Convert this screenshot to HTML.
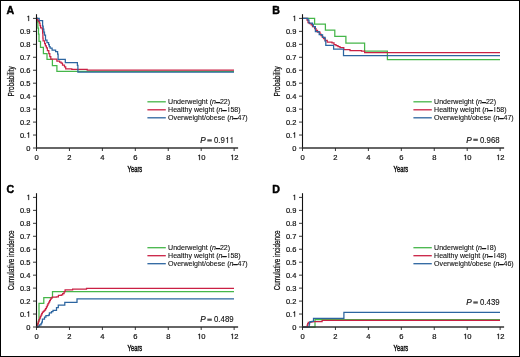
<!DOCTYPE html>
<html><head><meta charset="utf-8"><style>
html,body{margin:0;padding:0;background:#fff;}
svg{display:block;font-family:"Liberation Sans", sans-serif;}
text{stroke-linejoin:round;}
.w{will-change:transform;}
</style></head><body>
<svg width="520" height="357" viewBox="0 0 520 357" style="will-change:transform">
<rect x="0" y="0" width="520" height="357" fill="#fff"/>
<text x="6.4" y="13.8" font-size="10.6" font-weight="bold" fill="#000" stroke="#000" stroke-width="0.45">A</text>
<path d="M36.5,18.4 H37.4 V22 H37.9 V28 H38.5 V34 H39 V41.4 H40.5 V47.3 H43.4 V53.6 H47 V59.4 H52.4 V65.5 H56.9 V71.4 H234" fill="none" stroke="#45b649" stroke-width="1.25"/>
<path d="M36.5,18.4 H37.5 V20 H38.4 V21.5 H39.4 V23 H40 V25.5 H40.6 V27.8 H42.3 V29 H42.6 V33 H42.9 V38 H43.1 V40.9 H44.6 V43.6 H45.4 V45.8 H46.4 V47.8 H47.4 V50.7 H48.8 V53.7 H49.8 V56.6 H50.8 V59.1 H56.9 V61 H59.6 V62 H61.1 V63 H62.5 V65 H64.5 V66.9 H65.7 V68.9 H71.8 V69.4 H87.2 V70.2 H234" fill="none" stroke="#ca2044" stroke-width="1.25"/>
<path d="M36.5,18.4 H39.2 V20.6 H42.6 V26.1 H43.2 V29 H43.8 V32 H44.5 V35 H45.5 V40.1 H47 V42.6 H48.6 V44.6 H49.3 V46.5 H50.1 V48.1 H52.1 V50.2 H55.6 V51.7 H57.6 V54.2 H58.1 V59.4 H65.3 V62.6 H77.4 V65.4 H77.9 V72.2 H234" fill="none" stroke="#2c65a0" stroke-width="1.25"/>
<line x1="36.5" y1="14.199999999999989" x2="36.5" y2="148.8" stroke="#111" stroke-width="1.1"/>
<line x1="33.0" y1="148.00" x2="36.5" y2="148.00" stroke="#222" stroke-width="0.9"/>
<g transform="translate(26.130,150.650)"><text x="0.000" y="0" font-size="7.5" fill="#111" stroke="#111" stroke-width="0.2">0</text></g>
<line x1="33.0" y1="135.04" x2="36.5" y2="135.04" stroke="#222" stroke-width="0.9"/>
<g transform="translate(19.875,137.690)"><text x="0.000" y="0" font-size="7.5" fill="#111" stroke="#111" stroke-width="0.2">0</text><text x="4.170" y="0" font-size="7.5" fill="#111" stroke="#111" stroke-width="0.2">.</text><path transform="translate(6.255,0) scale(0.00750,-0.00750)" d="M392,0 L392,709 L322,709 C310,650 280,610 230,598 C200,591 170,590 145,590 L145,530 L302,530 L302,0 Z" fill="#111" stroke="#111" stroke-width="26.7"/></g>
<line x1="33.0" y1="122.08" x2="36.5" y2="122.08" stroke="#222" stroke-width="0.9"/>
<g transform="translate(19.875,124.730)"><text x="0.000" y="0" font-size="7.5" fill="#111" stroke="#111" stroke-width="0.2">0</text><text x="4.170" y="0" font-size="7.5" fill="#111" stroke="#111" stroke-width="0.2">.</text><text x="6.255" y="0" font-size="7.5" fill="#111" stroke="#111" stroke-width="0.2">2</text></g>
<line x1="33.0" y1="109.12" x2="36.5" y2="109.12" stroke="#222" stroke-width="0.9"/>
<g transform="translate(19.875,111.770)"><text x="0.000" y="0" font-size="7.5" fill="#111" stroke="#111" stroke-width="0.2">0</text><text x="4.170" y="0" font-size="7.5" fill="#111" stroke="#111" stroke-width="0.2">.</text><text x="6.255" y="0" font-size="7.5" fill="#111" stroke="#111" stroke-width="0.2">3</text></g>
<line x1="33.0" y1="96.16" x2="36.5" y2="96.16" stroke="#222" stroke-width="0.9"/>
<g transform="translate(19.875,98.810)"><text x="0.000" y="0" font-size="7.5" fill="#111" stroke="#111" stroke-width="0.2">0</text><text x="4.170" y="0" font-size="7.5" fill="#111" stroke="#111" stroke-width="0.2">.</text><text x="6.255" y="0" font-size="7.5" fill="#111" stroke="#111" stroke-width="0.2">4</text></g>
<line x1="33.0" y1="83.20" x2="36.5" y2="83.20" stroke="#222" stroke-width="0.9"/>
<g transform="translate(19.875,85.850)"><text x="0.000" y="0" font-size="7.5" fill="#111" stroke="#111" stroke-width="0.2">0</text><text x="4.170" y="0" font-size="7.5" fill="#111" stroke="#111" stroke-width="0.2">.</text><text x="6.255" y="0" font-size="7.5" fill="#111" stroke="#111" stroke-width="0.2">5</text></g>
<line x1="33.0" y1="70.24" x2="36.5" y2="70.24" stroke="#222" stroke-width="0.9"/>
<g transform="translate(19.875,72.890)"><text x="0.000" y="0" font-size="7.5" fill="#111" stroke="#111" stroke-width="0.2">0</text><text x="4.170" y="0" font-size="7.5" fill="#111" stroke="#111" stroke-width="0.2">.</text><text x="6.255" y="0" font-size="7.5" fill="#111" stroke="#111" stroke-width="0.2">6</text></g>
<line x1="33.0" y1="57.28" x2="36.5" y2="57.28" stroke="#222" stroke-width="0.9"/>
<g transform="translate(19.875,59.930)"><text x="0.000" y="0" font-size="7.5" fill="#111" stroke="#111" stroke-width="0.2">0</text><text x="4.170" y="0" font-size="7.5" fill="#111" stroke="#111" stroke-width="0.2">.</text><text x="6.255" y="0" font-size="7.5" fill="#111" stroke="#111" stroke-width="0.2">7</text></g>
<line x1="33.0" y1="44.32" x2="36.5" y2="44.32" stroke="#222" stroke-width="0.9"/>
<g transform="translate(19.875,46.970)"><text x="0.000" y="0" font-size="7.5" fill="#111" stroke="#111" stroke-width="0.2">0</text><text x="4.170" y="0" font-size="7.5" fill="#111" stroke="#111" stroke-width="0.2">.</text><text x="6.255" y="0" font-size="7.5" fill="#111" stroke="#111" stroke-width="0.2">8</text></g>
<line x1="33.0" y1="31.36" x2="36.5" y2="31.36" stroke="#222" stroke-width="0.9"/>
<g transform="translate(19.875,34.010)"><text x="0.000" y="0" font-size="7.5" fill="#111" stroke="#111" stroke-width="0.2">0</text><text x="4.170" y="0" font-size="7.5" fill="#111" stroke="#111" stroke-width="0.2">.</text><text x="6.255" y="0" font-size="7.5" fill="#111" stroke="#111" stroke-width="0.2">9</text></g>
<line x1="33.0" y1="18.40" x2="36.5" y2="18.40" stroke="#222" stroke-width="0.9"/>
<g transform="translate(26.130,21.050)"><path transform="translate(0.000,0) scale(0.00750,-0.00750)" d="M392,0 L392,709 L322,709 C310,650 280,610 230,598 C200,591 170,590 145,590 L145,530 L302,530 L302,0 Z" fill="#111" stroke="#111" stroke-width="26.7"/></g>
<line x1="36.0" y1="148.0" x2="238.1" y2="148.0" stroke="#333" stroke-width="1.7"/>
<line x1="36.50" y1="148.0" x2="36.50" y2="151.0" stroke="#222" stroke-width="0.9"/>
<g transform="translate(34.387,160.100)"><text x="0.000" y="0" font-size="7.6" fill="#111" stroke="#111" stroke-width="0.2">0</text></g>
<line x1="69.44" y1="148.0" x2="69.44" y2="151.0" stroke="#222" stroke-width="0.9"/>
<g transform="translate(67.327,160.100)"><text x="0.000" y="0" font-size="7.6" fill="#111" stroke="#111" stroke-width="0.2">2</text></g>
<line x1="102.38" y1="148.0" x2="102.38" y2="151.0" stroke="#222" stroke-width="0.9"/>
<g transform="translate(100.267,160.100)"><text x="0.000" y="0" font-size="7.6" fill="#111" stroke="#111" stroke-width="0.2">4</text></g>
<line x1="135.32" y1="148.0" x2="135.32" y2="151.0" stroke="#222" stroke-width="0.9"/>
<g transform="translate(133.207,160.100)"><text x="0.000" y="0" font-size="7.6" fill="#111" stroke="#111" stroke-width="0.2">6</text></g>
<line x1="168.26" y1="148.0" x2="168.26" y2="151.0" stroke="#222" stroke-width="0.9"/>
<g transform="translate(166.147,160.100)"><text x="0.000" y="0" font-size="7.6" fill="#111" stroke="#111" stroke-width="0.2">8</text></g>
<line x1="201.20" y1="148.0" x2="201.20" y2="151.0" stroke="#222" stroke-width="0.9"/>
<g transform="translate(196.974,160.100)"><path transform="translate(0.000,0) scale(0.00760,-0.00760)" d="M392,0 L392,709 L322,709 C310,650 280,610 230,598 C200,591 170,590 145,590 L145,530 L302,530 L302,0 Z" fill="#111" stroke="#111" stroke-width="26.3"/><text x="4.226" y="0" font-size="7.6" fill="#111" stroke="#111" stroke-width="0.2">0</text></g>
<line x1="234.14" y1="148.0" x2="234.14" y2="151.0" stroke="#222" stroke-width="0.9"/>
<g transform="translate(229.914,160.100)"><path transform="translate(0.000,0) scale(0.00760,-0.00760)" d="M392,0 L392,709 L322,709 C310,650 280,610 230,598 C200,591 170,590 145,590 L145,530 L302,530 L302,0 Z" fill="#111" stroke="#111" stroke-width="26.3"/><text x="4.226" y="0" font-size="7.6" fill="#111" stroke="#111" stroke-width="0.2">2</text></g>
<g transform="translate(127.60,172.20) scale(0.6325,1)"><text x="0" y="0" font-size="9.2" fill="#111" stroke="#111" stroke-width="0.45">Years</text></g>
<g transform="translate(13.5,81.30) rotate(-90) scale(0.7633,1)"><text x="0" y="0" font-size="8.5" text-anchor="middle" fill="#111" stroke="#111" stroke-width="0.26">Probability</text></g>
<line x1="147.40" y1="101.80" x2="165.80" y2="101.80" stroke="#45b649" stroke-width="1.3"/>
<text x="168.10" y="104.15" font-size="7" fill="#111" stroke="#111" stroke-width="0.1" textLength="62.0" lengthAdjust="spacingAndGlyphs">Underweight (<tspan font-style="italic">n</tspan><tspan stroke-width="0.75" dy="-0.2">–</tspan><tspan dy="0.2">22)</tspan></text>
<line x1="147.40" y1="109.80" x2="165.80" y2="109.80" stroke="#ca2044" stroke-width="1.3"/>
<text x="168.10" y="112.15" font-size="7" fill="#111" stroke="#111" stroke-width="0.1" textLength="72.5" lengthAdjust="spacingAndGlyphs">Healthy weight (<tspan font-style="italic">n</tspan><tspan stroke-width="0.75" dy="-0.2">–</tspan><tspan dy="0.2" dx="1.5">l</tspan><tspan dx="0.85">58)</tspan></text>
<line x1="147.40" y1="117.80" x2="165.80" y2="117.80" stroke="#2c65a0" stroke-width="1.3"/>
<text x="168.10" y="120.15" font-size="7" fill="#111" stroke="#111" stroke-width="0.1" textLength="79.6" lengthAdjust="spacingAndGlyphs">Overweight/obese (<tspan font-style="italic">n</tspan><tspan stroke-width="0.75" dy="-0.2">–</tspan><tspan dy="0.2">47)</tspan></text>
<text x="200.30" y="143.10" font-size="8.2" font-style="italic" fill="#111" stroke="#111" stroke-width="0.2">P</text>
<rect x="207.30" y="139.30" width="4.5" height="2.2" fill="#555"/>
<g transform="translate(214.000,143.100) scale(0.9109,1)"><text x="0.000" y="0" font-size="8.6" fill="#111" stroke="#111" stroke-width="0.12">0</text><text x="4.782" y="0" font-size="8.6" fill="#111" stroke="#111" stroke-width="0.12">.</text><text x="7.172" y="0" font-size="8.6" fill="#111" stroke="#111" stroke-width="0.12">9</text><path transform="translate(11.954,0) scale(0.00860,-0.00860)" d="M392,0 L392,709 L322,709 C310,650 280,610 230,598 C200,591 170,590 145,590 L145,530 L302,530 L302,0 Z" fill="#111" stroke="#111" stroke-width="14.0"/><path transform="translate(16.736,0) scale(0.00860,-0.00860)" d="M392,0 L392,709 L322,709 C310,650 280,610 230,598 C200,591 170,590 145,590 L145,530 L302,530 L302,0 Z" fill="#111" stroke="#111" stroke-width="14.0"/></g>
<text x="272.3" y="13.8" font-size="10.6" font-weight="bold" fill="#000" stroke="#000" stroke-width="0.45">B</text>
<path d="M302.5,18.4 H314.6 V24 H325.4 V30.1 H334.8 V36.4 H345.9 V43.2 H364.6 V51.1 H387.4 V59.5 H500" fill="none" stroke="#45b649" stroke-width="1.25"/>
<path d="M302.5,18.4 H307 V20 H308 V22.7 H309.5 V23.5 H311.2 V24.8 H312.5 V26.5 H314.6 V28.6 H316 V30.3 H317.5 V32 H320 V34 H321 V35.5 H322.2 V37 H323.5 V38.7 H325.1 V40.4 H327.2 V42 H332 V42.9 H334 V44.5 H336 V45.5 H338 V46.5 H340 V47.7 H343.8 V49.5 H350 V50.5 H361.5 V51.1 H364.6 V52.6 H500" fill="none" stroke="#ca2044" stroke-width="1.25"/>
<path d="M302.5,18.4 H307.9 V20.2 H309 V23.1 H312.5 V24.4 H313.3 V26.5 H315.4 V31.5 H319.2 V34.5 H321.7 V34.9 H322.6 V37.4 H325.1 V41.2 H325.8 V45.3 H333.6 V49 H343.5 V55.5 H500" fill="none" stroke="#2c65a0" stroke-width="1.25"/>
<line x1="302.5" y1="14.199999999999989" x2="302.5" y2="148.8" stroke="#111" stroke-width="1.1"/>
<line x1="299.0" y1="148.00" x2="302.5" y2="148.00" stroke="#222" stroke-width="0.9"/>
<g transform="translate(292.130,150.650)"><text x="0.000" y="0" font-size="7.5" fill="#111" stroke="#111" stroke-width="0.2">0</text></g>
<line x1="299.0" y1="135.04" x2="302.5" y2="135.04" stroke="#222" stroke-width="0.9"/>
<g transform="translate(285.875,137.690)"><text x="0.000" y="0" font-size="7.5" fill="#111" stroke="#111" stroke-width="0.2">0</text><text x="4.170" y="0" font-size="7.5" fill="#111" stroke="#111" stroke-width="0.2">.</text><path transform="translate(6.255,0) scale(0.00750,-0.00750)" d="M392,0 L392,709 L322,709 C310,650 280,610 230,598 C200,591 170,590 145,590 L145,530 L302,530 L302,0 Z" fill="#111" stroke="#111" stroke-width="26.7"/></g>
<line x1="299.0" y1="122.08" x2="302.5" y2="122.08" stroke="#222" stroke-width="0.9"/>
<g transform="translate(285.875,124.730)"><text x="0.000" y="0" font-size="7.5" fill="#111" stroke="#111" stroke-width="0.2">0</text><text x="4.170" y="0" font-size="7.5" fill="#111" stroke="#111" stroke-width="0.2">.</text><text x="6.255" y="0" font-size="7.5" fill="#111" stroke="#111" stroke-width="0.2">2</text></g>
<line x1="299.0" y1="109.12" x2="302.5" y2="109.12" stroke="#222" stroke-width="0.9"/>
<g transform="translate(285.875,111.770)"><text x="0.000" y="0" font-size="7.5" fill="#111" stroke="#111" stroke-width="0.2">0</text><text x="4.170" y="0" font-size="7.5" fill="#111" stroke="#111" stroke-width="0.2">.</text><text x="6.255" y="0" font-size="7.5" fill="#111" stroke="#111" stroke-width="0.2">3</text></g>
<line x1="299.0" y1="96.16" x2="302.5" y2="96.16" stroke="#222" stroke-width="0.9"/>
<g transform="translate(285.875,98.810)"><text x="0.000" y="0" font-size="7.5" fill="#111" stroke="#111" stroke-width="0.2">0</text><text x="4.170" y="0" font-size="7.5" fill="#111" stroke="#111" stroke-width="0.2">.</text><text x="6.255" y="0" font-size="7.5" fill="#111" stroke="#111" stroke-width="0.2">4</text></g>
<line x1="299.0" y1="83.20" x2="302.5" y2="83.20" stroke="#222" stroke-width="0.9"/>
<g transform="translate(285.875,85.850)"><text x="0.000" y="0" font-size="7.5" fill="#111" stroke="#111" stroke-width="0.2">0</text><text x="4.170" y="0" font-size="7.5" fill="#111" stroke="#111" stroke-width="0.2">.</text><text x="6.255" y="0" font-size="7.5" fill="#111" stroke="#111" stroke-width="0.2">5</text></g>
<line x1="299.0" y1="70.24" x2="302.5" y2="70.24" stroke="#222" stroke-width="0.9"/>
<g transform="translate(285.875,72.890)"><text x="0.000" y="0" font-size="7.5" fill="#111" stroke="#111" stroke-width="0.2">0</text><text x="4.170" y="0" font-size="7.5" fill="#111" stroke="#111" stroke-width="0.2">.</text><text x="6.255" y="0" font-size="7.5" fill="#111" stroke="#111" stroke-width="0.2">6</text></g>
<line x1="299.0" y1="57.28" x2="302.5" y2="57.28" stroke="#222" stroke-width="0.9"/>
<g transform="translate(285.875,59.930)"><text x="0.000" y="0" font-size="7.5" fill="#111" stroke="#111" stroke-width="0.2">0</text><text x="4.170" y="0" font-size="7.5" fill="#111" stroke="#111" stroke-width="0.2">.</text><text x="6.255" y="0" font-size="7.5" fill="#111" stroke="#111" stroke-width="0.2">7</text></g>
<line x1="299.0" y1="44.32" x2="302.5" y2="44.32" stroke="#222" stroke-width="0.9"/>
<g transform="translate(285.875,46.970)"><text x="0.000" y="0" font-size="7.5" fill="#111" stroke="#111" stroke-width="0.2">0</text><text x="4.170" y="0" font-size="7.5" fill="#111" stroke="#111" stroke-width="0.2">.</text><text x="6.255" y="0" font-size="7.5" fill="#111" stroke="#111" stroke-width="0.2">8</text></g>
<line x1="299.0" y1="31.36" x2="302.5" y2="31.36" stroke="#222" stroke-width="0.9"/>
<g transform="translate(285.875,34.010)"><text x="0.000" y="0" font-size="7.5" fill="#111" stroke="#111" stroke-width="0.2">0</text><text x="4.170" y="0" font-size="7.5" fill="#111" stroke="#111" stroke-width="0.2">.</text><text x="6.255" y="0" font-size="7.5" fill="#111" stroke="#111" stroke-width="0.2">9</text></g>
<line x1="299.0" y1="18.40" x2="302.5" y2="18.40" stroke="#222" stroke-width="0.9"/>
<g transform="translate(292.130,21.050)"><path transform="translate(0.000,0) scale(0.00750,-0.00750)" d="M392,0 L392,709 L322,709 C310,650 280,610 230,598 C200,591 170,590 145,590 L145,530 L302,530 L302,0 Z" fill="#111" stroke="#111" stroke-width="26.7"/></g>
<line x1="302.0" y1="148.0" x2="504.1" y2="148.0" stroke="#333" stroke-width="1.7"/>
<line x1="302.50" y1="148.0" x2="302.50" y2="151.0" stroke="#222" stroke-width="0.9"/>
<g transform="translate(300.387,160.100)"><text x="0.000" y="0" font-size="7.6" fill="#111" stroke="#111" stroke-width="0.2">0</text></g>
<line x1="335.44" y1="148.0" x2="335.44" y2="151.0" stroke="#222" stroke-width="0.9"/>
<g transform="translate(333.327,160.100)"><text x="0.000" y="0" font-size="7.6" fill="#111" stroke="#111" stroke-width="0.2">2</text></g>
<line x1="368.38" y1="148.0" x2="368.38" y2="151.0" stroke="#222" stroke-width="0.9"/>
<g transform="translate(366.267,160.100)"><text x="0.000" y="0" font-size="7.6" fill="#111" stroke="#111" stroke-width="0.2">4</text></g>
<line x1="401.32" y1="148.0" x2="401.32" y2="151.0" stroke="#222" stroke-width="0.9"/>
<g transform="translate(399.207,160.100)"><text x="0.000" y="0" font-size="7.6" fill="#111" stroke="#111" stroke-width="0.2">6</text></g>
<line x1="434.26" y1="148.0" x2="434.26" y2="151.0" stroke="#222" stroke-width="0.9"/>
<g transform="translate(432.147,160.100)"><text x="0.000" y="0" font-size="7.6" fill="#111" stroke="#111" stroke-width="0.2">8</text></g>
<line x1="467.20" y1="148.0" x2="467.20" y2="151.0" stroke="#222" stroke-width="0.9"/>
<g transform="translate(462.974,160.100)"><path transform="translate(0.000,0) scale(0.00760,-0.00760)" d="M392,0 L392,709 L322,709 C310,650 280,610 230,598 C200,591 170,590 145,590 L145,530 L302,530 L302,0 Z" fill="#111" stroke="#111" stroke-width="26.3"/><text x="4.226" y="0" font-size="7.6" fill="#111" stroke="#111" stroke-width="0.2">0</text></g>
<line x1="500.14" y1="148.0" x2="500.14" y2="151.0" stroke="#222" stroke-width="0.9"/>
<g transform="translate(495.914,160.100)"><path transform="translate(0.000,0) scale(0.00760,-0.00760)" d="M392,0 L392,709 L322,709 C310,650 280,610 230,598 C200,591 170,590 145,590 L145,530 L302,530 L302,0 Z" fill="#111" stroke="#111" stroke-width="26.3"/><text x="4.226" y="0" font-size="7.6" fill="#111" stroke="#111" stroke-width="0.2">2</text></g>
<g transform="translate(393.60,172.20) scale(0.6325,1)"><text x="0" y="0" font-size="9.2" fill="#111" stroke="#111" stroke-width="0.45">Years</text></g>
<g transform="translate(279.5,81.30) rotate(-90) scale(0.7633,1)"><text x="0" y="0" font-size="8.5" text-anchor="middle" fill="#111" stroke="#111" stroke-width="0.26">Probability</text></g>
<line x1="413.40" y1="101.80" x2="431.80" y2="101.80" stroke="#45b649" stroke-width="1.3"/>
<text x="434.10" y="104.15" font-size="7" fill="#111" stroke="#111" stroke-width="0.1" textLength="62.0" lengthAdjust="spacingAndGlyphs">Underweight (<tspan font-style="italic">n</tspan><tspan stroke-width="0.75" dy="-0.2">–</tspan><tspan dy="0.2">22)</tspan></text>
<line x1="413.40" y1="109.80" x2="431.80" y2="109.80" stroke="#ca2044" stroke-width="1.3"/>
<text x="434.10" y="112.15" font-size="7" fill="#111" stroke="#111" stroke-width="0.1" textLength="72.5" lengthAdjust="spacingAndGlyphs">Healthy weight (<tspan font-style="italic">n</tspan><tspan stroke-width="0.75" dy="-0.2">–</tspan><tspan dy="0.2" dx="1.5">l</tspan><tspan dx="0.85">58)</tspan></text>
<line x1="413.40" y1="117.80" x2="431.80" y2="117.80" stroke="#2c65a0" stroke-width="1.3"/>
<text x="434.10" y="120.15" font-size="7" fill="#111" stroke="#111" stroke-width="0.1" textLength="79.6" lengthAdjust="spacingAndGlyphs">Overweight/obese (<tspan font-style="italic">n</tspan><tspan stroke-width="0.75" dy="-0.2">–</tspan><tspan dy="0.2">47)</tspan></text>
<text x="466.30" y="142.50" font-size="8.2" font-style="italic" fill="#111" stroke="#111" stroke-width="0.2">P</text>
<rect x="473.30" y="138.70" width="4.5" height="2.2" fill="#555"/>
<g transform="translate(480.000,142.500) scale(0.9109,1)"><text x="0.000" y="0" font-size="8.6" fill="#111" stroke="#111" stroke-width="0.12">0</text><text x="4.782" y="0" font-size="8.6" fill="#111" stroke="#111" stroke-width="0.12">.</text><text x="7.172" y="0" font-size="8.6" fill="#111" stroke="#111" stroke-width="0.12">9</text><text x="11.954" y="0" font-size="8.6" fill="#111" stroke="#111" stroke-width="0.12">6</text><text x="16.736" y="0" font-size="8.6" fill="#111" stroke="#111" stroke-width="0.12">8</text></g>
<text x="6.4" y="193.0" font-size="10.6" font-weight="bold" fill="#000" stroke="#000" stroke-width="0.45">C</text>
<path d="M36.5,327 H37.2 V325.5 H37.8 V323 H38.5 V320.5 H39 V303.4 H43.8 V297.6 H52.5 V291.5 H234" fill="none" stroke="#45b649" stroke-width="1.25"/>
<path d="M36.5,327 H37.2 V325 H37.8 V323.5 H38.3 V321.5 H39 V319.5 H39.7 V318 H40.3 V316.5 H41 V315 H41.7 V313.5 H42.4 V312.2 H43.5 V311 H44.5 V310 H45.5 V308.5 H46.4 V306.8 H47.3 V305 H48 V303.5 H48.8 V302 H49.6 V300.5 H50.4 V299 H51.2 V297.8 H52.2 V297.2 H56.4 V296.8 H58.4 V295.4 H61.3 V294.9 H62.7 V293.5 H64.1 V291.5 H65.1 V289.9 H72.6 V289 H86.5 V288.3 H234" fill="none" stroke="#ca2044" stroke-width="1.25"/>
<path d="M36.5,327 H38 V326.2 H39.6 V324.8 H41 V323.5 H41.7 V322 H42.4 V319.2 H44.5 V317.1 H45.9 V315.7 H48.5 V315 H49.4 V312.9 H51.5 V311.5 H53 V310.4 H56.5 V307.7 H58.3 V305.2 H64.8 V302.3 H77 V298.9 H234" fill="none" stroke="#2c65a0" stroke-width="1.25"/>
<line x1="36.5" y1="193.2" x2="36.5" y2="327.8" stroke="#111" stroke-width="1.1"/>
<line x1="33.0" y1="327.00" x2="36.5" y2="327.00" stroke="#222" stroke-width="0.9"/>
<g transform="translate(26.130,329.650)"><text x="0.000" y="0" font-size="7.5" fill="#111" stroke="#111" stroke-width="0.2">0</text></g>
<line x1="33.0" y1="314.04" x2="36.5" y2="314.04" stroke="#222" stroke-width="0.9"/>
<g transform="translate(19.875,316.690)"><text x="0.000" y="0" font-size="7.5" fill="#111" stroke="#111" stroke-width="0.2">0</text><text x="4.170" y="0" font-size="7.5" fill="#111" stroke="#111" stroke-width="0.2">.</text><path transform="translate(6.255,0) scale(0.00750,-0.00750)" d="M392,0 L392,709 L322,709 C310,650 280,610 230,598 C200,591 170,590 145,590 L145,530 L302,530 L302,0 Z" fill="#111" stroke="#111" stroke-width="26.7"/></g>
<line x1="33.0" y1="301.08" x2="36.5" y2="301.08" stroke="#222" stroke-width="0.9"/>
<g transform="translate(19.875,303.730)"><text x="0.000" y="0" font-size="7.5" fill="#111" stroke="#111" stroke-width="0.2">0</text><text x="4.170" y="0" font-size="7.5" fill="#111" stroke="#111" stroke-width="0.2">.</text><text x="6.255" y="0" font-size="7.5" fill="#111" stroke="#111" stroke-width="0.2">2</text></g>
<line x1="33.0" y1="288.12" x2="36.5" y2="288.12" stroke="#222" stroke-width="0.9"/>
<g transform="translate(19.875,290.770)"><text x="0.000" y="0" font-size="7.5" fill="#111" stroke="#111" stroke-width="0.2">0</text><text x="4.170" y="0" font-size="7.5" fill="#111" stroke="#111" stroke-width="0.2">.</text><text x="6.255" y="0" font-size="7.5" fill="#111" stroke="#111" stroke-width="0.2">3</text></g>
<line x1="33.0" y1="275.16" x2="36.5" y2="275.16" stroke="#222" stroke-width="0.9"/>
<g transform="translate(19.875,277.810)"><text x="0.000" y="0" font-size="7.5" fill="#111" stroke="#111" stroke-width="0.2">0</text><text x="4.170" y="0" font-size="7.5" fill="#111" stroke="#111" stroke-width="0.2">.</text><text x="6.255" y="0" font-size="7.5" fill="#111" stroke="#111" stroke-width="0.2">4</text></g>
<line x1="33.0" y1="262.20" x2="36.5" y2="262.20" stroke="#222" stroke-width="0.9"/>
<g transform="translate(19.875,264.850)"><text x="0.000" y="0" font-size="7.5" fill="#111" stroke="#111" stroke-width="0.2">0</text><text x="4.170" y="0" font-size="7.5" fill="#111" stroke="#111" stroke-width="0.2">.</text><text x="6.255" y="0" font-size="7.5" fill="#111" stroke="#111" stroke-width="0.2">5</text></g>
<line x1="33.0" y1="249.24" x2="36.5" y2="249.24" stroke="#222" stroke-width="0.9"/>
<g transform="translate(19.875,251.890)"><text x="0.000" y="0" font-size="7.5" fill="#111" stroke="#111" stroke-width="0.2">0</text><text x="4.170" y="0" font-size="7.5" fill="#111" stroke="#111" stroke-width="0.2">.</text><text x="6.255" y="0" font-size="7.5" fill="#111" stroke="#111" stroke-width="0.2">6</text></g>
<line x1="33.0" y1="236.28" x2="36.5" y2="236.28" stroke="#222" stroke-width="0.9"/>
<g transform="translate(19.875,238.930)"><text x="0.000" y="0" font-size="7.5" fill="#111" stroke="#111" stroke-width="0.2">0</text><text x="4.170" y="0" font-size="7.5" fill="#111" stroke="#111" stroke-width="0.2">.</text><text x="6.255" y="0" font-size="7.5" fill="#111" stroke="#111" stroke-width="0.2">7</text></g>
<line x1="33.0" y1="223.32" x2="36.5" y2="223.32" stroke="#222" stroke-width="0.9"/>
<g transform="translate(19.875,225.970)"><text x="0.000" y="0" font-size="7.5" fill="#111" stroke="#111" stroke-width="0.2">0</text><text x="4.170" y="0" font-size="7.5" fill="#111" stroke="#111" stroke-width="0.2">.</text><text x="6.255" y="0" font-size="7.5" fill="#111" stroke="#111" stroke-width="0.2">8</text></g>
<line x1="33.0" y1="210.36" x2="36.5" y2="210.36" stroke="#222" stroke-width="0.9"/>
<g transform="translate(19.875,213.010)"><text x="0.000" y="0" font-size="7.5" fill="#111" stroke="#111" stroke-width="0.2">0</text><text x="4.170" y="0" font-size="7.5" fill="#111" stroke="#111" stroke-width="0.2">.</text><text x="6.255" y="0" font-size="7.5" fill="#111" stroke="#111" stroke-width="0.2">9</text></g>
<line x1="33.0" y1="197.40" x2="36.5" y2="197.40" stroke="#222" stroke-width="0.9"/>
<g transform="translate(26.130,200.050)"><path transform="translate(0.000,0) scale(0.00750,-0.00750)" d="M392,0 L392,709 L322,709 C310,650 280,610 230,598 C200,591 170,590 145,590 L145,530 L302,530 L302,0 Z" fill="#111" stroke="#111" stroke-width="26.7"/></g>
<line x1="36.0" y1="327.0" x2="238.1" y2="327.0" stroke="#333" stroke-width="1.7"/>
<line x1="36.50" y1="327.0" x2="36.50" y2="330.0" stroke="#222" stroke-width="0.9"/>
<g transform="translate(34.387,339.100)"><text x="0.000" y="0" font-size="7.6" fill="#111" stroke="#111" stroke-width="0.2">0</text></g>
<line x1="69.44" y1="327.0" x2="69.44" y2="330.0" stroke="#222" stroke-width="0.9"/>
<g transform="translate(67.327,339.100)"><text x="0.000" y="0" font-size="7.6" fill="#111" stroke="#111" stroke-width="0.2">2</text></g>
<line x1="102.38" y1="327.0" x2="102.38" y2="330.0" stroke="#222" stroke-width="0.9"/>
<g transform="translate(100.267,339.100)"><text x="0.000" y="0" font-size="7.6" fill="#111" stroke="#111" stroke-width="0.2">4</text></g>
<line x1="135.32" y1="327.0" x2="135.32" y2="330.0" stroke="#222" stroke-width="0.9"/>
<g transform="translate(133.207,339.100)"><text x="0.000" y="0" font-size="7.6" fill="#111" stroke="#111" stroke-width="0.2">6</text></g>
<line x1="168.26" y1="327.0" x2="168.26" y2="330.0" stroke="#222" stroke-width="0.9"/>
<g transform="translate(166.147,339.100)"><text x="0.000" y="0" font-size="7.6" fill="#111" stroke="#111" stroke-width="0.2">8</text></g>
<line x1="201.20" y1="327.0" x2="201.20" y2="330.0" stroke="#222" stroke-width="0.9"/>
<g transform="translate(196.974,339.100)"><path transform="translate(0.000,0) scale(0.00760,-0.00760)" d="M392,0 L392,709 L322,709 C310,650 280,610 230,598 C200,591 170,590 145,590 L145,530 L302,530 L302,0 Z" fill="#111" stroke="#111" stroke-width="26.3"/><text x="4.226" y="0" font-size="7.6" fill="#111" stroke="#111" stroke-width="0.2">0</text></g>
<line x1="234.14" y1="327.0" x2="234.14" y2="330.0" stroke="#222" stroke-width="0.9"/>
<g transform="translate(229.914,339.100)"><path transform="translate(0.000,0) scale(0.00760,-0.00760)" d="M392,0 L392,709 L322,709 C310,650 280,610 230,598 C200,591 170,590 145,590 L145,530 L302,530 L302,0 Z" fill="#111" stroke="#111" stroke-width="26.3"/><text x="4.226" y="0" font-size="7.6" fill="#111" stroke="#111" stroke-width="0.2">2</text></g>
<g transform="translate(127.60,351.20) scale(0.6325,1)"><text x="0" y="0" font-size="9.2" fill="#111" stroke="#111" stroke-width="0.45">Years</text></g>
<g transform="translate(13.5,260.30) rotate(-90) scale(0.7425,1)"><text x="0" y="0" font-size="8.5" text-anchor="middle" fill="#111" stroke="#111" stroke-width="0.26">Cumulative incidence</text></g>
<line x1="147.40" y1="247.70" x2="165.80" y2="247.70" stroke="#45b649" stroke-width="1.3"/>
<text x="168.10" y="250.05" font-size="7" fill="#111" stroke="#111" stroke-width="0.1" textLength="62.0" lengthAdjust="spacingAndGlyphs">Underweight (<tspan font-style="italic">n</tspan><tspan stroke-width="0.75" dy="-0.2">–</tspan><tspan dy="0.2">22)</tspan></text>
<line x1="147.40" y1="255.70" x2="165.80" y2="255.70" stroke="#ca2044" stroke-width="1.3"/>
<text x="168.10" y="258.05" font-size="7" fill="#111" stroke="#111" stroke-width="0.1" textLength="72.5" lengthAdjust="spacingAndGlyphs">Healthy weight (<tspan font-style="italic">n</tspan><tspan stroke-width="0.75" dy="-0.2">–</tspan><tspan dy="0.2" dx="1.5">l</tspan><tspan dx="0.85">58)</tspan></text>
<line x1="147.40" y1="263.70" x2="165.80" y2="263.70" stroke="#2c65a0" stroke-width="1.3"/>
<text x="168.10" y="266.05" font-size="7" fill="#111" stroke="#111" stroke-width="0.1" textLength="79.6" lengthAdjust="spacingAndGlyphs">Overweight/obese (<tspan font-style="italic">n</tspan><tspan stroke-width="0.75" dy="-0.2">–</tspan><tspan dy="0.2">47)</tspan></text>
<text x="200.30" y="322.40" font-size="8.2" font-style="italic" fill="#111" stroke="#111" stroke-width="0.2">P</text>
<rect x="207.30" y="318.60" width="4.5" height="2.2" fill="#555"/>
<g transform="translate(214.000,322.400) scale(0.9109,1)"><text x="0.000" y="0" font-size="8.6" fill="#111" stroke="#111" stroke-width="0.12">0</text><text x="4.782" y="0" font-size="8.6" fill="#111" stroke="#111" stroke-width="0.12">.</text><text x="7.172" y="0" font-size="8.6" fill="#111" stroke="#111" stroke-width="0.12">4</text><text x="11.954" y="0" font-size="8.6" fill="#111" stroke="#111" stroke-width="0.12">8</text><text x="16.736" y="0" font-size="8.6" fill="#111" stroke="#111" stroke-width="0.12">9</text></g>
<text x="272.3" y="193.0" font-size="10.6" font-weight="bold" fill="#000" stroke="#000" stroke-width="0.45">D</text>
<path d="M302.5,327 H315 V319.6 H500" fill="none" stroke="#45b649" stroke-width="1.25"/>
<path d="M302.5,327 H307.2 V325 H307.7 V323.5 H308.3 V322.4 H310 V322.2 H311.5 V321.9 H313 V321.6 H322.1 V320.4 H500" fill="none" stroke="#ca2044" stroke-width="1.25"/>
<path d="M302.5,327 H309.2 V324 H309.6 V322 H310.5 V321.6 H312 V321.3 H313.5 V318.4 H343.9 V312.3 H500" fill="none" stroke="#2c65a0" stroke-width="1.25"/>
<line x1="302.5" y1="193.2" x2="302.5" y2="327.8" stroke="#111" stroke-width="1.1"/>
<line x1="299.0" y1="327.00" x2="302.5" y2="327.00" stroke="#222" stroke-width="0.9"/>
<g transform="translate(292.130,329.650)"><text x="0.000" y="0" font-size="7.5" fill="#111" stroke="#111" stroke-width="0.2">0</text></g>
<line x1="299.0" y1="314.04" x2="302.5" y2="314.04" stroke="#222" stroke-width="0.9"/>
<g transform="translate(285.875,316.690)"><text x="0.000" y="0" font-size="7.5" fill="#111" stroke="#111" stroke-width="0.2">0</text><text x="4.170" y="0" font-size="7.5" fill="#111" stroke="#111" stroke-width="0.2">.</text><path transform="translate(6.255,0) scale(0.00750,-0.00750)" d="M392,0 L392,709 L322,709 C310,650 280,610 230,598 C200,591 170,590 145,590 L145,530 L302,530 L302,0 Z" fill="#111" stroke="#111" stroke-width="26.7"/></g>
<line x1="299.0" y1="301.08" x2="302.5" y2="301.08" stroke="#222" stroke-width="0.9"/>
<g transform="translate(285.875,303.730)"><text x="0.000" y="0" font-size="7.5" fill="#111" stroke="#111" stroke-width="0.2">0</text><text x="4.170" y="0" font-size="7.5" fill="#111" stroke="#111" stroke-width="0.2">.</text><text x="6.255" y="0" font-size="7.5" fill="#111" stroke="#111" stroke-width="0.2">2</text></g>
<line x1="299.0" y1="288.12" x2="302.5" y2="288.12" stroke="#222" stroke-width="0.9"/>
<g transform="translate(285.875,290.770)"><text x="0.000" y="0" font-size="7.5" fill="#111" stroke="#111" stroke-width="0.2">0</text><text x="4.170" y="0" font-size="7.5" fill="#111" stroke="#111" stroke-width="0.2">.</text><text x="6.255" y="0" font-size="7.5" fill="#111" stroke="#111" stroke-width="0.2">3</text></g>
<line x1="299.0" y1="275.16" x2="302.5" y2="275.16" stroke="#222" stroke-width="0.9"/>
<g transform="translate(285.875,277.810)"><text x="0.000" y="0" font-size="7.5" fill="#111" stroke="#111" stroke-width="0.2">0</text><text x="4.170" y="0" font-size="7.5" fill="#111" stroke="#111" stroke-width="0.2">.</text><text x="6.255" y="0" font-size="7.5" fill="#111" stroke="#111" stroke-width="0.2">4</text></g>
<line x1="299.0" y1="262.20" x2="302.5" y2="262.20" stroke="#222" stroke-width="0.9"/>
<g transform="translate(285.875,264.850)"><text x="0.000" y="0" font-size="7.5" fill="#111" stroke="#111" stroke-width="0.2">0</text><text x="4.170" y="0" font-size="7.5" fill="#111" stroke="#111" stroke-width="0.2">.</text><text x="6.255" y="0" font-size="7.5" fill="#111" stroke="#111" stroke-width="0.2">5</text></g>
<line x1="299.0" y1="249.24" x2="302.5" y2="249.24" stroke="#222" stroke-width="0.9"/>
<g transform="translate(285.875,251.890)"><text x="0.000" y="0" font-size="7.5" fill="#111" stroke="#111" stroke-width="0.2">0</text><text x="4.170" y="0" font-size="7.5" fill="#111" stroke="#111" stroke-width="0.2">.</text><text x="6.255" y="0" font-size="7.5" fill="#111" stroke="#111" stroke-width="0.2">6</text></g>
<line x1="299.0" y1="236.28" x2="302.5" y2="236.28" stroke="#222" stroke-width="0.9"/>
<g transform="translate(285.875,238.930)"><text x="0.000" y="0" font-size="7.5" fill="#111" stroke="#111" stroke-width="0.2">0</text><text x="4.170" y="0" font-size="7.5" fill="#111" stroke="#111" stroke-width="0.2">.</text><text x="6.255" y="0" font-size="7.5" fill="#111" stroke="#111" stroke-width="0.2">7</text></g>
<line x1="299.0" y1="223.32" x2="302.5" y2="223.32" stroke="#222" stroke-width="0.9"/>
<g transform="translate(285.875,225.970)"><text x="0.000" y="0" font-size="7.5" fill="#111" stroke="#111" stroke-width="0.2">0</text><text x="4.170" y="0" font-size="7.5" fill="#111" stroke="#111" stroke-width="0.2">.</text><text x="6.255" y="0" font-size="7.5" fill="#111" stroke="#111" stroke-width="0.2">8</text></g>
<line x1="299.0" y1="210.36" x2="302.5" y2="210.36" stroke="#222" stroke-width="0.9"/>
<g transform="translate(285.875,213.010)"><text x="0.000" y="0" font-size="7.5" fill="#111" stroke="#111" stroke-width="0.2">0</text><text x="4.170" y="0" font-size="7.5" fill="#111" stroke="#111" stroke-width="0.2">.</text><text x="6.255" y="0" font-size="7.5" fill="#111" stroke="#111" stroke-width="0.2">9</text></g>
<line x1="299.0" y1="197.40" x2="302.5" y2="197.40" stroke="#222" stroke-width="0.9"/>
<g transform="translate(292.130,200.050)"><path transform="translate(0.000,0) scale(0.00750,-0.00750)" d="M392,0 L392,709 L322,709 C310,650 280,610 230,598 C200,591 170,590 145,590 L145,530 L302,530 L302,0 Z" fill="#111" stroke="#111" stroke-width="26.7"/></g>
<line x1="302.0" y1="327.0" x2="504.1" y2="327.0" stroke="#333" stroke-width="1.7"/>
<line x1="302.50" y1="327.0" x2="302.50" y2="330.0" stroke="#222" stroke-width="0.9"/>
<g transform="translate(300.387,339.100)"><text x="0.000" y="0" font-size="7.6" fill="#111" stroke="#111" stroke-width="0.2">0</text></g>
<line x1="335.44" y1="327.0" x2="335.44" y2="330.0" stroke="#222" stroke-width="0.9"/>
<g transform="translate(333.327,339.100)"><text x="0.000" y="0" font-size="7.6" fill="#111" stroke="#111" stroke-width="0.2">2</text></g>
<line x1="368.38" y1="327.0" x2="368.38" y2="330.0" stroke="#222" stroke-width="0.9"/>
<g transform="translate(366.267,339.100)"><text x="0.000" y="0" font-size="7.6" fill="#111" stroke="#111" stroke-width="0.2">4</text></g>
<line x1="401.32" y1="327.0" x2="401.32" y2="330.0" stroke="#222" stroke-width="0.9"/>
<g transform="translate(399.207,339.100)"><text x="0.000" y="0" font-size="7.6" fill="#111" stroke="#111" stroke-width="0.2">6</text></g>
<line x1="434.26" y1="327.0" x2="434.26" y2="330.0" stroke="#222" stroke-width="0.9"/>
<g transform="translate(432.147,339.100)"><text x="0.000" y="0" font-size="7.6" fill="#111" stroke="#111" stroke-width="0.2">8</text></g>
<line x1="467.20" y1="327.0" x2="467.20" y2="330.0" stroke="#222" stroke-width="0.9"/>
<g transform="translate(462.974,339.100)"><path transform="translate(0.000,0) scale(0.00760,-0.00760)" d="M392,0 L392,709 L322,709 C310,650 280,610 230,598 C200,591 170,590 145,590 L145,530 L302,530 L302,0 Z" fill="#111" stroke="#111" stroke-width="26.3"/><text x="4.226" y="0" font-size="7.6" fill="#111" stroke="#111" stroke-width="0.2">0</text></g>
<line x1="500.14" y1="327.0" x2="500.14" y2="330.0" stroke="#222" stroke-width="0.9"/>
<g transform="translate(495.914,339.100)"><path transform="translate(0.000,0) scale(0.00760,-0.00760)" d="M392,0 L392,709 L322,709 C310,650 280,610 230,598 C200,591 170,590 145,590 L145,530 L302,530 L302,0 Z" fill="#111" stroke="#111" stroke-width="26.3"/><text x="4.226" y="0" font-size="7.6" fill="#111" stroke="#111" stroke-width="0.2">2</text></g>
<g transform="translate(393.60,351.20) scale(0.6325,1)"><text x="0" y="0" font-size="9.2" fill="#111" stroke="#111" stroke-width="0.45">Years</text></g>
<g transform="translate(279.5,260.30) rotate(-90) scale(0.7425,1)"><text x="0" y="0" font-size="8.5" text-anchor="middle" fill="#111" stroke="#111" stroke-width="0.26">Cumulative incidence</text></g>
<line x1="413.40" y1="247.70" x2="431.80" y2="247.70" stroke="#45b649" stroke-width="1.3"/>
<text x="434.10" y="250.05" font-size="7" fill="#111" stroke="#111" stroke-width="0.1" textLength="62.0" lengthAdjust="spacingAndGlyphs">Underweight (<tspan font-style="italic">n</tspan><tspan stroke-width="0.75" dy="-0.2">–</tspan><tspan dy="0.2" dx="1.5">l</tspan><tspan dx="0.85">8)</tspan></text>
<line x1="413.40" y1="255.70" x2="431.80" y2="255.70" stroke="#ca2044" stroke-width="1.3"/>
<text x="434.10" y="258.05" font-size="7" fill="#111" stroke="#111" stroke-width="0.1" textLength="72.5" lengthAdjust="spacingAndGlyphs">Healthy weight (<tspan font-style="italic">n</tspan><tspan stroke-width="0.75" dy="-0.2">–</tspan><tspan dy="0.2" dx="1.5">l</tspan><tspan dx="0.85">48)</tspan></text>
<line x1="413.40" y1="263.70" x2="431.80" y2="263.70" stroke="#2c65a0" stroke-width="1.3"/>
<text x="434.10" y="266.05" font-size="7" fill="#111" stroke="#111" stroke-width="0.1" textLength="79.6" lengthAdjust="spacingAndGlyphs">Overweight/obese (<tspan font-style="italic">n</tspan><tspan stroke-width="0.75" dy="-0.2">–</tspan><tspan dy="0.2">46)</tspan></text>
<text x="466.30" y="305.20" font-size="8.2" font-style="italic" fill="#111" stroke="#111" stroke-width="0.2">P</text>
<rect x="473.30" y="301.40" width="4.5" height="2.2" fill="#555"/>
<g transform="translate(480.000,305.200) scale(0.9109,1)"><text x="0.000" y="0" font-size="8.6" fill="#111" stroke="#111" stroke-width="0.12">0</text><text x="4.782" y="0" font-size="8.6" fill="#111" stroke="#111" stroke-width="0.12">.</text><text x="7.172" y="0" font-size="8.6" fill="#111" stroke="#111" stroke-width="0.12">4</text><text x="11.954" y="0" font-size="8.6" fill="#111" stroke="#111" stroke-width="0.12">3</text><text x="16.736" y="0" font-size="8.6" fill="#111" stroke="#111" stroke-width="0.12">9</text></g>
<rect x="0.5" y="0.5" width="519" height="356" fill="none" stroke="#000" stroke-width="1"/>
</svg>
</body></html>
